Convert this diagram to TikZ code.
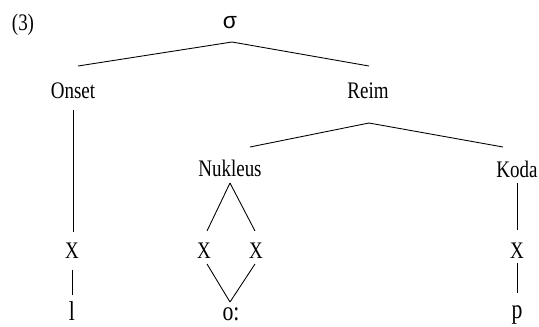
\documentclass[tikz,border=0pt]{standalone}
\usepackage{fontspec}
\setmainfont{Liberation Serif}[FakeStretch=0.8]
\newfontfamily\sigfont{Liberation Sans}
\usepackage{tikz}
\usetikzlibrary{calc}

\begin{document}
\begin{tikzpicture}[x=0.02cm,y=-0.02cm,
  lbl/.style={anchor=base,inner sep=0pt,font=\fontsize{13.5}{15}\selectfont},
  seg/.style={anchor=base,inner sep=0pt,font=\fontsize{15.5}{17}\selectfont},
  ln/.style={line width=0.5pt}]
  \useasboundingbox (0,0) rectangle (539,326);
  % labels
  \node[lbl] (num)   at (23,30)   {(3)};
  \node[anchor=base,inner sep=0pt,font=\sigfont\fontsize{13}{15}\selectfont] (sig) at (230,28) {σ};
  \node[lbl] (onset) at (73,98)   {Onset};
  \node[lbl] (reim)  at (368,98)  {Reim};
  \node[lbl] (nuk)   at (230,176) {Nukleus};
  \node[lbl] (koda)  at (517,177) {Koda};
  \node[lbl] (xa)    at (72,258)  {X};
  \node[lbl] (xb)    at (204,258) {X};
  \node[lbl] (xc)    at (256,258) {X};
  \node[lbl] (xd)    at (517,258) {X};
  \node[seg] (segl)  at (72,320)  {l};
  \node[seg] (sego)  at (231,320) {o:};
  \node[seg] (segp)  at (517,318) {p};
  % branches
  \draw[ln] ($(sig.base)+(2,14)$) -- ($(onset.base)+(5,-32)$);
  \draw[ln] ($(sig.base)+(2,14)$) -- ($(reim.base)+(1,-32)$);
  \draw[ln] ($(onset.base)+(0,12)$) -- ($(xa.base)+(1,-26)$);
  \draw[ln] ($(reim.base)+(1,25)$) -- ($(nuk.base)+(20,-29)$);
  \draw[ln] ($(reim.base)+(1,25)$) -- ($(koda.base)+(-14,-30)$);
  \draw[ln] ($(nuk.base)+(0,7)$) -- ($(xb.base)+(3,-27)$);
  \draw[ln] ($(nuk.base)+(0,7)$) -- ($(xc.base)+(-1,-27)$);
  \draw[ln] ($(koda.base)+(0,6)$) -- ($(xd.base)+(0,-28)$);
  \draw[ln] ($(xa.base)+(0,12)$) -- ($(segl.base)+(0,-25)$);
  \draw[ln] ($(xb.base)+(3,6)$) -- ($(sego.base)+(-1,-18)$);
  \draw[ln] ($(xc.base)+(-1,6)$) -- ($(sego.base)+(-1,-18)$);
  \draw[ln] ($(xd.base)+(0,5)$) -- ($(segp.base)+(0,-25)$);
\end{tikzpicture}
\end{document}
